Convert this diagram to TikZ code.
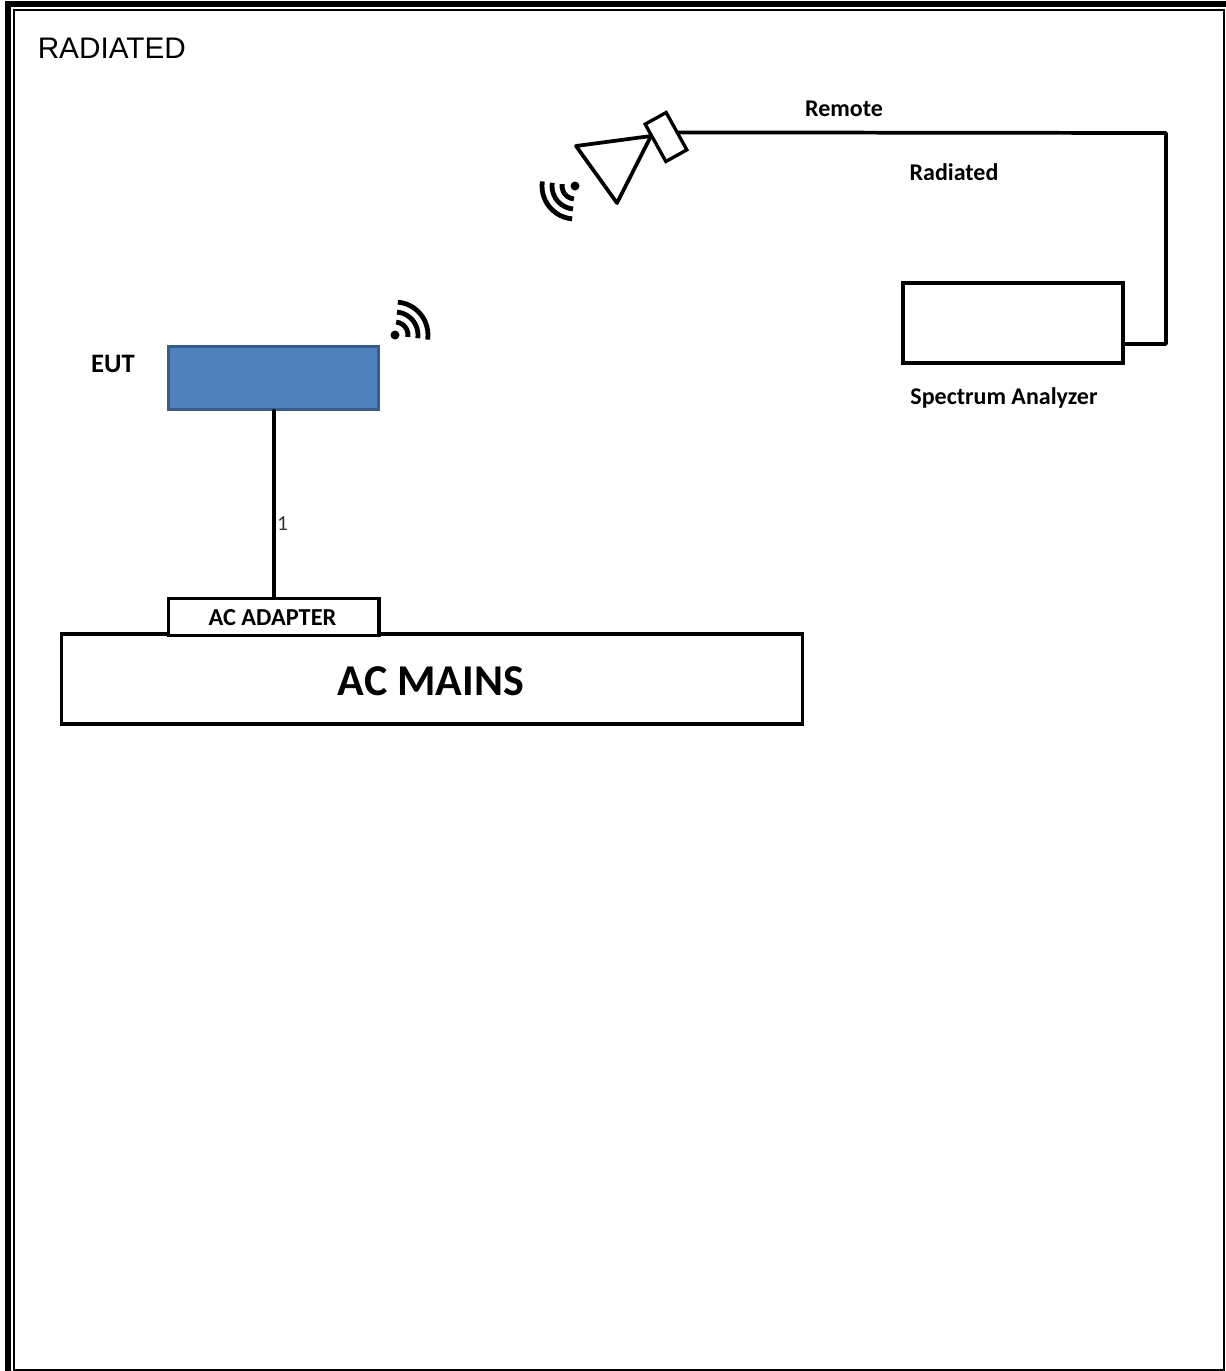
\documentclass[tikz,border=0pt]{standalone}
\usepackage{fontspec}
\setmainfont{Carlito}
\newfontfamily\arialfont{Liberation Sans}
\usepackage{xcolor}
\usetikzlibrary{positioning}
\definecolor{eutblue}{HTML}{4F81BD}
\definecolor{eutedge}{HTML}{385D8A}

\begin{document}
\begin{tikzpicture}[
  x=0.75pt,y=-0.75pt,
  box/.style={draw,line width=2.5pt,fill=white,inner sep=0pt},
  wire/.style={line width=2.8pt,line cap=round,line join=round},
  tag/.style={font=\bfseries\fontsize{18}{20}\selectfont,inner sep=0pt},
  wifi/.pic={
    \fill (0,0) circle (4.5);
    \foreach \r in {13,23,33}
      \draw[line width=3.6pt] (-85:\r) arc (-85:8:\r);
  }
]
  \useasboundingbox (0,0) rectangle (1226,1371);

  % frame
  \fill (5,1) rectangle (11,1371);
  \fill (5,1) rectangle (1226,7);
  \draw[line width=1.5pt] (14,1370) -- (14,10) -- (1224,10) -- (1224,1370) -- cycle;

  \node[font=\arialfont\fontsize{22.3}{24}\selectfont,inner sep=0pt,anchor=west] (title) at (37.5,48) {RADIATED};

  % boxes
  \node[draw=eutedge,line width=2.4pt,fill=eutblue,minimum width=158pt,minimum height=47pt,inner sep=0pt] (eut) at (273.5,378) {};
  \node[box,minimum width=556pt,minimum height=67.5pt] (mains) at (432,679) {};
  \node[font=\bfseries\fontsize{33}{35}\selectfont,inner sep=0pt] (mainstag) at (431,681) {AC MAINS};
  \node[box,minimum width=158pt,minimum height=28pt] (adapter) at (273.5,617) {};
  \node[font=\bfseries\fontsize{18.3}{20}\selectfont,inner sep=0pt] (adaptertag) at (272.5,618) {AC ADAPTER};
  \node[box,minimum width=165pt,minimum height=60pt] (analyzer) at (1013,323) {};

  \node[tag,font=\bfseries\fontsize{20}{22}\selectfont] (euttag) at (113,364) {EUT};
  \node[tag] (remote) at (844,108.5) {Remote};
  \node[tag] (radiated) at (954,172) {Radiated};
  \node[tag] (spectrum) at (1004,397.5) {Spectrum Analyzer};

  % antenna
  \coordinate (hornA) at (576,146);
  \coordinate (hornB) at (651,136);
  \coordinate (hornC) at (617,203);
  \draw[wire] (hornA) -- (hornB) -- (hornC) -- cycle;
  \node[box,rotate=-61,minimum width=32pt,minimum height=18pt] (mount) at (666,137) {};

  % connectors
  \coordinate (bend) at (1166,133);
  \draw[wire] ([xshift=0.4pt]eut.south) -- node[pos=0.606,right,inner sep=1pt,font=\fontsize{16}{18}\selectfont,text=black!80] (cable) {1} ([xshift=0.4pt]adapter.north);
  \draw[wire] ([yshift=-1.5pt]mount.north) -- (bend) |- ([yshift=-15.75pt]analyzer.east);

  % radio waves
  \pic at (395,335) {wifi};
  \pic[rotate=180] at (575,186) {wifi};
\end{tikzpicture}
\end{document}
